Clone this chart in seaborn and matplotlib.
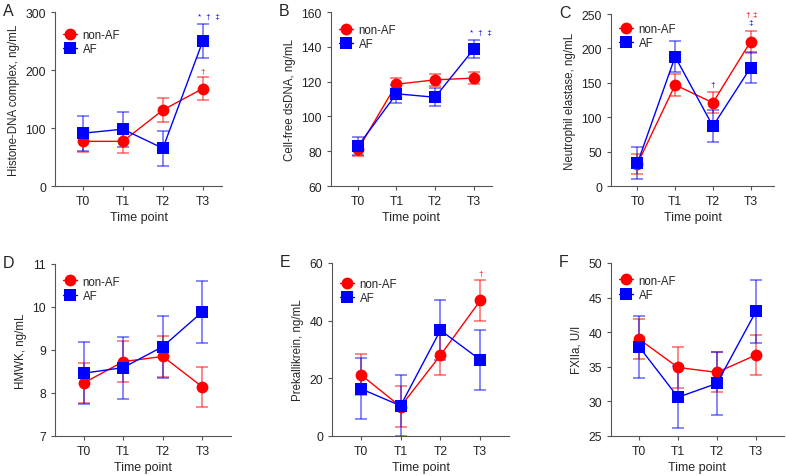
import numpy as np
import pandas as pd
import seaborn as sns
import matplotlib.pyplot as plt

time_points = ["T0", "T1", "T2", "T3"]
groups = ["non-AF", "AF"]

# panel A - histone-DNA complex
histone_nonaf = [77, 77, 131, 168]
histone_nonaf_err = [18, 20, 20, 20]
histone_af = [91, 98, 65, 250]
histone_af_err = [30, 30, 30, 30]

# panel B - cell-free dsDNA
dsdna_nonaf = [81, 118.5, 121, 122]
dsdna_nonaf_err = [3.5, 3.5, 3.5, 3.5]
dsdna_af = [83, 113, 111, 138.5]
dsdna_af_err = [5.2, 5.2, 5.2, 5.2]

# panel C - neutrophil elastase
ne_nonaf = [32, 147, 121, 210]
ne_nonaf_err = [15, 16, 15, 16]
ne_af = [33, 188, 87, 172]
ne_af_err = [23, 23, 23, 23]

# panel D - HMWK
hmwk_nonaf = [8.23, 8.73, 8.85, 8.14]
hmwk_nonaf_err = [0.47, 0.47, 0.47, 0.47]
hmwk_af = [8.46, 8.59, 9.08, 9.89]
hmwk_af_err = [0.72, 0.72, 0.72, 0.72]

# panel E - prekallikrein
pk_nonaf = [21.3, 10.2, 28, 47]
pk_nonaf_err = [7, 7, 7, 7]
pk_af = [16.4, 10.5, 36.7, 26.4]
pk_af_err = [10.5, 10.5, 10.5, 10.5]

# panel F - FXIIa
fx_nonaf = [39, 34.9, 34.2, 36.7]
fx_nonaf_err = [2.9, 2.9, 2.9, 2.9]
fx_af = [37.9, 30.6, 32.6, 43]
fx_af_err = [4.5, 4.5, 4.5, 4.5]

panels = [
    ("A", "Histone-DNA complex, ng/mL", (0, 300), [0, 100, 200, 300],
     histone_nonaf, histone_nonaf_err, histone_af, histone_af_err, (-0.7, 3.48)),
    ("B", "Cell-free dsDNA, ng/mL", (60, 160), [60, 80, 100, 120, 140, 160],
     dsdna_nonaf, dsdna_nonaf_err, dsdna_af, dsdna_af_err, (-0.7, 3.48)),
    ("C", "Neutrophil elastase, ng/mL", (0, 250), [0, 50, 100, 150, 200, 250],
     ne_nonaf, ne_nonaf_err, ne_af, ne_af_err, (-0.7, 3.62)),
    ("D", "HMWK, ng/mL", (7, 11), [7, 8, 9, 10, 11],
     hmwk_nonaf, hmwk_nonaf_err, hmwk_af, hmwk_af_err, (-0.72, 3.72)),
    ("E", "Prekallikrein, ng/mL", (0, 60), [0, 20, 40, 60],
     pk_nonaf, pk_nonaf_err, pk_af, pk_af_err, (-0.72, 3.72)),
    ("F", "FXIIa, U/l", (25, 50), [25, 30, 35, 40, 45, 50],
     fx_nonaf, fx_nonaf_err, fx_af, fx_af_err, (-0.72, 3.72)),
]

# axes boxes in pixels: left, right, top, bottom
boxes = [
    (55, 222, 13, 187), (331, 492, 13, 187), (611, 774, 15, 187),
    (55, 231, 265, 437), (332, 509, 264, 437), (611, 784, 264, 437),
]
legend_y = [0.95, 0.98, 0.995, 0.98, 0.96, 0.98]

# significance marks: (panel, x, y, text, colour)
marks = [
    ("A", 3.15, 293, "*  \u2020  \u2021", "blue"),
    ("A", 3.0, 198, "\u2020", "red"),
    ("B", 3.2, 148.5, "*  \u2020  \u2021", "blue"),
    ("C", 3.04, 250, "\u2020 \u2021", "red"),
    ("C", 3.0, 238, "\u2021", "blue"),
    ("C", 2.0, 147, "\u2020", "blue"),
    ("E", 3.0, 56.5, "\u2020", "red"),
]

sns.set_theme(style="ticks")
plt.rcParams['font.family'] = ['Liberation Sans', 'DejaVu Sans']

colors = {"non-AF": "#ff0000", "AF": "#0000ff"}
markers = {"non-AF": "o", "AF": "s"}

W, H = 786, 477
fig = plt.figure(figsize=(W / 100, H / 100), dpi=100)

for box, ly, (letter, ylabel, ylim, yticks, nonaf, nonaf_err, af, af_err, xlim) in zip(boxes, legend_y, panels):
    l, r, t, b = box
    ax = fig.add_axes([l / W, 1 - b / H, (r - l) / W, (b - t) / H])
    df = pd.DataFrame({
        "Time": list(range(4)) * 2,
        "Value": nonaf + af,
        "Err": nonaf_err + af_err,
        "Group": ["non-AF"] * 4 + ["AF"] * 4,
    })
    for g in groups:
        sub = df[df["Group"] == g]
        ax.errorbar(sub["Time"], sub["Value"], yerr=sub["Err"], fmt="none",
                    ecolor=colors[g], alpha=0.55, elinewidth=1.2, capsize=4, capthick=1.2)
    sns.lineplot(data=df, x="Time", y="Value", hue="Group", style="Group",
                 palette=colors, markers=markers, dashes=False, markersize=8.5,
                 markeredgewidth=0, linewidth=1, ax=ax)
    ax.set_xlim(xlim)
    ax.set_ylim(ylim)
    ax.set_yticks(yticks)
    ax.set_xticks(range(4))
    ax.set_xticklabels(time_points)
    ax.set_xlabel("Time point", fontsize=9, labelpad=3)
    ax.set_ylabel(ylabel, fontsize=8.3, labelpad=4)
    ax.tick_params(labelsize=8.8, length=3, width=0.8, color="#555555", labelcolor="#222222")
    for sp in ["left", "bottom"]:
        ax.spines[sp].set_color("#555555")
        ax.spines[sp].set_linewidth(0.8)
    sns.despine(ax=ax)
    ax.legend(loc="upper left", frameon=False, fontsize=8.3, handlelength=1.2,
              handletextpad=0.5, borderaxespad=0.3, labelspacing=0.2,
              bbox_to_anchor=(0.0, ly))
    for m in marks:
        if m[0] == letter:
            ax.text(m[1], m[2], m[3], color=m[4], fontsize=6,
                    ha="center", va="center")
    fig.text((l - 52) / W, 1 - (t - 9) / H, letter, fontsize=11.5, ha="left", va="top")

fig.savefig("out.png", dpi=100)
